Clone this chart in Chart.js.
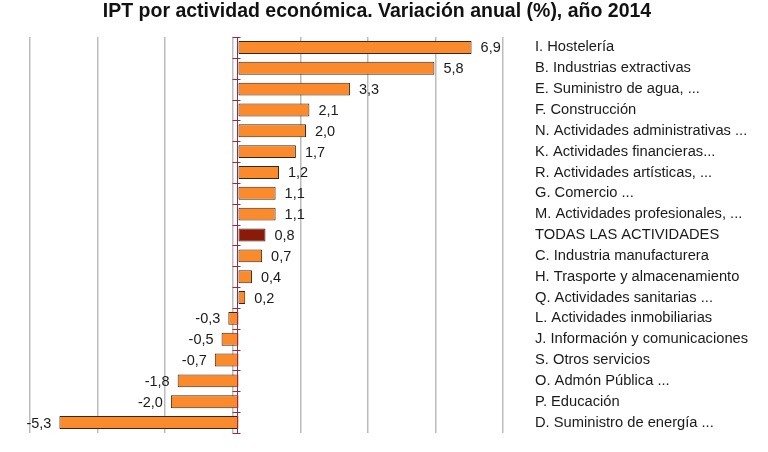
<!DOCTYPE html>
<html lang="es">
<head>
    <meta charset="UTF-8">
    <title>IPT por actividad económica</title>
    <script src="https://cdn.jsdelivr.net/npm/chart.js"></script>
    <style>
        html, body { margin: 0; padding: 0; background: #fff; }
        #wrap { width: 768px; height: 452px; }
    </style>
</head>
<body>
    <div id="wrap"><canvas id="iptChart"></canvas></div>

    <script>
        const chartTitle = "IPT por actividad económica. Variación anual (%), año 2014";
        const categories = [
            "I. Hostelería",
            "B. Industrias extractivas",
            "E. Suministro de agua, ...",
            "F. Construcción",
            "N. Actividades administrativas ...",
            "K. Actividades financieras...",
            "R. Actividades artísticas, ...",
            "G. Comercio ...",
            "M. Actividades profesionales, ...",
            "TODAS LAS ACTIVIDADES",
            "C. Industria manufacturera",
            "H. Trasporte y almacenamiento",
            "Q. Actividades sanitarias ...",
            "L. Actividades inmobiliarias",
            "J. Información y comunicaciones",
            "S. Otros servicios",
            "O. Admón Pública ...",
            "P. Educación",
            "D. Suministro de energía ..."
        ];
        const variacion = [6.9, 5.8, 3.3, 2.1, 2.0, 1.7, 1.2, 1.1, 1.1, 0.8, 0.7, 0.4, 0.2, -0.3, -0.5, -0.7, -1.8, -2.0, -5.3];
        const totalLabel = "TODAS LAS ACTIVIDADES";

        // x range of the original plot (gridlines every 2 points, not aligned on 0)
        const xMin = -6.17;
        const xMax = 7.83;
        const xStep = 2;

        const font = "'Liberation Sans', Arial, sans-serif";

        // title is a bit left of the page centre in the original
        const titleText = {
            id: "titleText",
            afterDraw(chart) {
                const { ctx } = chart;
                ctx.save();
                ctx.font = "bold 19.5px " + font;
                ctx.fillStyle = "#111";
                ctx.textAlign = "center";
                ctx.textBaseline = "middle";
                ctx.fillText(chartTitle, 377, 12);
                ctx.restore();
            }
        };

        // red zero axis with small marks between categories
        const zeroAxis = {
            id: "zeroAxis",
            afterDatasetsDraw(chart) {
                const { ctx, scales: { x, y } } = chart;
                const x0 = Math.round(x.getPixelForValue(0)) - 0.5;
                ctx.save();
                ctx.strokeStyle = "#a3263c";
                ctx.lineWidth = 1;
                ctx.beginPath();
                ctx.moveTo(x0, y.top);
                ctx.lineTo(x0, y.bottom);
                for (let i = 0; i <= categories.length; i++) {
                    const yy = Math.round(y.getPixelForValue(i - 0.5)) + 0.5;
                    ctx.moveTo(x0 - 5, yy);
                    ctx.lineTo(x0 + 3, yy);
                }
                ctx.stroke();
                ctx.restore();
            }
        };

        // value labels next to the bars, decimal comma
        const valueLabels = {
            id: "valueLabels",
            afterDatasetsDraw(chart) {
                const { ctx } = chart;
                const meta = chart.getDatasetMeta(0);
                ctx.save();
                ctx.font = "14.5px " + font;
                ctx.fillStyle = "#1a1a1a";
                ctx.textBaseline = "middle";
                meta.data.forEach((bar, i) => {
                    const v = variacion[i];
                    const txt = v.toFixed(1).replace(".", ",");
                    if (v >= 0) {
                        ctx.textAlign = "left";
                        ctx.fillText(txt, bar.x + 9, bar.y + 1);
                    } else {
                        ctx.textAlign = "right";
                        ctx.fillText(txt, bar.x - 8, bar.y + 1);
                    }
                });
                ctx.restore();
            }
        };

        const ctx = document.getElementById("iptChart").getContext("2d");
        new Chart(ctx, {
            type: "bar",
            data: {
                labels: categories,
                datasets: [{
                    data: variacion,
                    backgroundColor: c => categories[c.dataIndex] === totalLabel ? "#8c1a08" : "#fb8a2c",
                    borderColor: "#3b2612",
                    borderWidth: 1,
                    borderSkipped: false,
                    categoryPercentage: 1,
                    barPercentage: 0.62
                }]
            },
            options: {
                indexAxis: "y",
                responsive: true,
                maintainAspectRatio: false,
                animation: false,
                layout: { padding: { left: 30, right: 0, top: 37, bottom: 19 } },
                plugins: {
                    legend: { display: false },
                    tooltip: { enabled: false },
                    title: { display: false }
                },
                scales: {
                    x: {
                        min: xMin,
                        max: xMax,
                        afterBuildTicks: scale => {
                            const t = [];
                            for (let v = xMin; v <= xMax + 0.001; v += xStep) t.push({ value: v });
                            scale.ticks = t;
                        },
                        afterFit: scale => { scale.height = 0; },
                        ticks: { display: false },
                        grid: { color: "#bcbcbc", lineWidth: 1.5, drawTicks: false },
                        border: { display: false }
                    },
                    y: {
                        position: "right",
                        afterFit: scale => {
                            scale.width = 265;
                            scale.paddingTop = 0;
                            scale.paddingBottom = 0;
                        },
                        ticks: {
                            color: "#1a1a1a",
                            font: { family: font, size: 14.7 },
                            padding: 32,
                            crossAlign: "near"
                        },
                        grid: { display: false, drawTicks: false },
                        border: { display: false }
                    }
                }
            },
            plugins: [zeroAxis, valueLabels, titleText]
        });
    </script>
</body>
</html>
